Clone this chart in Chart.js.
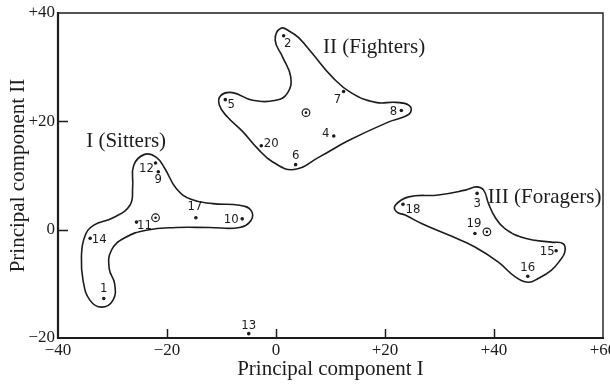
<!DOCTYPE html>
<html>
<head>
<meta charset="utf-8">
<script src="https://cdn.jsdelivr.net/npm/chart.js@4.4.1/dist/chart.umd.min.js"></script>
<style>
  html, body { margin: 0; padding: 0; background: #fff; }
  #wrap { width: 610px; height: 384px; }
</style>
</head>
<body>
<div id="wrap"><canvas id="pca"></canvas></div>
<script>
// specimen scores on the first two principal components
var ids  = [1, 2, 3, 4, 5, 6, 7, 8, 9, 10, 11, 12, 13, 14, 15, 16, 17, 18, 19, 20];
var pcI  = [-31.6, 1.4, 36.9, 10.6, -9.3, 3.6, 12.4, 23.0, -21.6, -6.2,
            -25.6, -22.1, -5.0, -34.1, 51.4, 46.2, -14.7, 23.3, 36.5, -2.7];
var pcII = [-12.7, 35.8, 6.7, 17.3, 24.0, 12.0, 25.5, 22.0, 10.7, 2.0,
            1.4, 12.3, -19.2, -1.6, -3.9, -8.6, 2.2, 4.7, -0.7, 15.5];

// group means (circled dots)
var meanI  = [-22.1, 5.5, 38.7];
var meanII = [2.2, 21.6, -0.4];

// hand drawn group boundaries, one closed curve per group
var sittersX = [-24.1, -22.0, -20.4, -18.3, -15.6, -11.6, -6.7, -4.6, -4.6, -6.7, -12.2, -18.3,
                -23.8, -27.75, -30.2, -30.6, -29.6, -29.9, -32.0, -34.15, -35.4, -35.7, -35.1,
                -33.5, -29.9, -26.8, -26.3, -26.1];
var sittersY = [13.9, 13.4, 11.3, 7.6, 5.6, 4.8, 4.5, 3.6, 1.7, 0.4, 0.4, 0.4,
                -0.1, -1.5, -3.8, -7.2, -10.0, -13.0, -14.3, -13.0, -9.4, -5.0, -1.3,
                0.8, 2.2, 4.5, 7.9, 11.9];
var fightersX = [0.9, 2.7, 4.2, 6.6, 10.3, 13.9, 18.3, 22.0, 24.35, 24.7, 23.4, 20.7, 13.4, 7.9,
                 3.3, -0.6, -3.4, -6.1, -8.9, -10.4, -10.1, -8.0, -4.3, 0.0, 2.1, 2.7, 1.2, -0.15];
var fightersY = [37.2, 36.5, 35.4, 32.6, 28.2, 25.2, 23.5, 23.5, 23.0, 21.7, 20.8, 19.9, 16.5, 13.4,
                 11.1, 12.5, 15.0, 18.1, 20.8, 23.0, 24.8, 25.3, 23.9, 23.9, 25.2, 28.2, 31.9, 35.0];
var foragersX = [21.9, 24.35, 29.8, 34.7, 36.8, 38.1, 39.0, 40.2, 42.0, 45.7, 50.5, 52.7, 53.0,
                 52.1, 50.5, 48.1, 46.3, 43.9, 40.8, 36.5, 31.7, 26.8, 23.7, 22.1];
var foragersY = [4.5, 6.05, 6.4, 7.3, 7.9, 7.3, 4.8, 2.3, 0.2, -1.6, -2.3, -2.6, -4.1,
                 -5.7, -7.5, -9.0, -9.7, -8.7, -6.0, -3.2, -1.0, 1.1, 2.7, 3.3];

var groupNames = ['I (Sitters)', 'II (Fighters)', 'III (Foragers)'];
var groupNameX = [-27.5, 18.0, 49.3];
var groupNameY = [16.2, 33.7, 6.0];

var xTicks = [-40, -20, 0, 20, 40, 60];
var yTicks = [-20, 0, 20, 40];

var ink = '#1c1c1c';
var serif = '"Liberation Serif", "Times New Roman", Times, serif';
var hand = '"Liberation Sans Narrow", "DejaVu Sans Condensed", "Arial Narrow", sans-serif';

// where each specimen number sits relative to its dot (px)
var labelNudge = [[0, -10], [4, 8], [0, 10], [-8, -2], [6, 5], [0, -9], [-6, 8], [-8, 1],
                  [0, 8], [-11, 1], [8, 4], [-9, 6], [0, -8], [9, 1], [-9, 1], [0, -9],
                  [-1, -11], [10, 5], [-1, -10], [10, -2]];

function signed(v) {
  if (v > 0) return '+' + v;
  if (v < 0) return '\u2212' + (-v);
  return '0';
}

// wrap the outline so the spline closes smoothly; the two wrap segments are hidden
function closedLoop(xs, ys) {
  var n = xs.length, pts = [];
  pts.push({x: xs[n - 1], y: ys[n - 1]});
  for (var i = 0; i < n; i++) pts.push({x: xs[i], y: ys[i]});
  pts.push({x: xs[0], y: ys[0]});
  pts.push({x: xs[1], y: ys[1]});
  return pts;
}

function outlineDataset(xs, ys) {
  var pts = closedLoop(xs, ys);
  var last = pts.length - 1;
  return {
    type: 'line',
    data: pts,
    showLine: true,
    fill: false,
    tension: 0.45,
    borderColor: ink,
    borderWidth: 1.6,
    pointRadius: 0,
    pointHitRadius: 0,
    segment: {
      borderColor: function (c) {
        return (c.p0DataIndex === 0 || c.p1DataIndex === last) ? 'rgba(0,0,0,0)' : undefined;
      }
    }
  };
}

var points = ids.map(function (id, i) { return {x: pcI[i], y: pcII[i]}; });
var means = meanI.map(function (v, i) { return {x: v, y: meanII[i]}; });

// labels, inward ticks and the frame
var decorations = {
  id: 'decorations',
  afterDraw: function (chart) {
    var ctx = chart.ctx, xs = chart.scales.x, ys = chart.scales.y, a = chart.chartArea;
    ctx.save();
    ctx.fillStyle = ink;
    ctx.textAlign = 'center';
    ctx.textBaseline = 'middle';

    ctx.font = '13px ' + hand;
    ids.forEach(function (id, i) {
      var px = xs.getPixelForValue(pcI[i]), py = ys.getPixelForValue(pcII[i]);
      ctx.fillText(String(id), px + labelNudge[i][0], py + labelNudge[i][1]);
    });

    ctx.font = '21px ' + serif;
    groupNames.forEach(function (name, i) {
      ctx.fillText(name, xs.getPixelForValue(groupNameX[i]), ys.getPixelForValue(groupNameY[i]));
    });

    ctx.strokeStyle = ink;
    ctx.lineWidth = 1.5;
    ctx.beginPath();
    xTicks.forEach(function (v) {
      if (v === xs.min || v === xs.max) return;
      var px = Math.round(xs.getPixelForValue(v)) + 0.5;
      ctx.moveTo(px, a.bottom);
      ctx.lineTo(px, a.bottom - 9);
    });
    yTicks.forEach(function (v) {
      if (v === ys.min || v === ys.max) return;
      var py = Math.round(ys.getPixelForValue(v)) + 0.5;
      ctx.moveTo(a.left, py);
      ctx.lineTo(a.left + 10, py);
    });
    ctx.stroke();

    ctx.beginPath();
    ctx.lineWidth = 1.4;
    ctx.moveTo(a.left, a.top);
    ctx.lineTo(a.right, a.top);
    ctx.lineTo(a.right, a.bottom);
    ctx.stroke();
    ctx.beginPath();
    ctx.lineWidth = 2.2;
    ctx.moveTo(a.left, a.top - 1);
    ctx.lineTo(a.left, a.bottom);
    ctx.lineTo(a.right + 1, a.bottom);
    ctx.stroke();
    ctx.restore();
  }
};

new Chart(document.getElementById('pca'), {
  type: 'scatter',
  data: {
    datasets: [
      outlineDataset(sittersX, sittersY),
      outlineDataset(fightersX, fightersY),
      outlineDataset(foragersX, foragersY),
      {
        data: points,
        pointRadius: 1.8,
        pointBackgroundColor: ink,
        pointBorderWidth: 0
      },
      {
        // ring of the mean marker
        data: means,
        pointRadius: 3.8,
        pointBackgroundColor: 'rgba(0,0,0,0)',
        pointBorderColor: ink,
        pointBorderWidth: 1.2
      },
      {
        // centre dot of the mean marker
        data: means,
        pointRadius: 1.3,
        pointBackgroundColor: ink,
        pointBorderWidth: 0
      }
    ]
  },
  options: {
    responsive: true,
    maintainAspectRatio: false,
    animation: false,
    events: [],
    layout: { padding: { top: 13, right: 7, left: 0, bottom: 0 } },
    plugins: { legend: { display: false }, tooltip: { enabled: false } },
    scales: {
      x: {
        type: 'linear',
        min: -40,
        max: 60,
        afterBuildTicks: function (s) { s.ticks = xTicks.map(function (v) { return {value: v}; }); },
        afterFit: function (s) { s.height = 46; s.paddingLeft = 0; s.paddingRight = 0; },
        grid: { display: false, drawTicks: false },
        border: { display: false },
        ticks: {
          callback: signed,
          autoSkip: false,
          maxRotation: 0,
          padding: 2,
          color: ink,
          font: { family: serif, size: 17 }
        },
        title: {
          display: true,
          text: 'Principal component I',
          color: ink,
          font: { family: serif, size: 21 },
          padding: { top: 0, bottom: 2 }
        }
      },
      y: {
        type: 'linear',
        min: -20,
        max: 40,
        afterBuildTicks: function (s) { s.ticks = yTicks.map(function (v) { return {value: v}; }); },
        afterFit: function (s) { s.width = 58; s.paddingTop = 0; s.paddingBottom = 0; },
        grid: { display: false, drawTicks: false },
        border: { display: false },
        ticks: {
          callback: signed,
          autoSkip: false,
          padding: 3,
          color: ink,
          font: { family: serif, size: 17 }
        },
        title: {
          display: true,
          text: 'Principal component II',
          color: ink,
          font: { family: serif, size: 21 },
          padding: { top: 6, bottom: 0 }
        }
      }
    }
  },
  plugins: [decorations]
});
</script>
</body>
</html>
